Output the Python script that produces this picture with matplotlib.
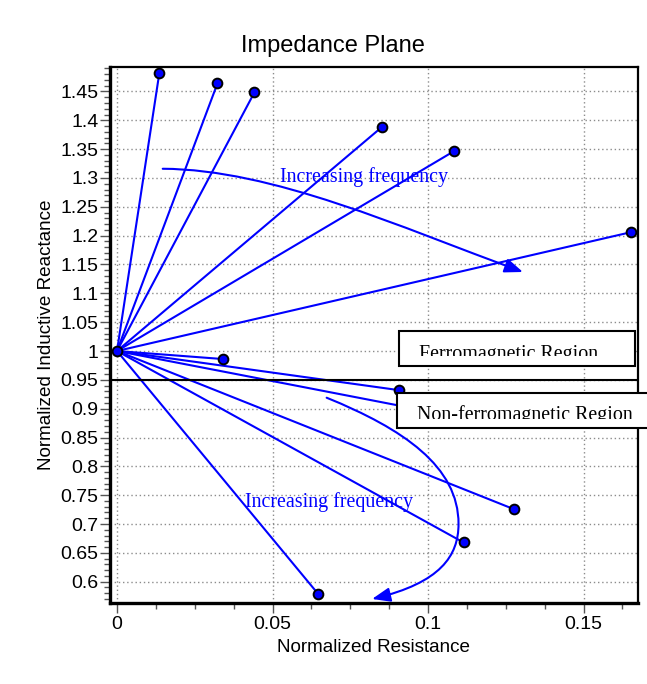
import matplotlib
matplotlib.use("Agg")
import matplotlib.pyplot as plt
from matplotlib.patches import Rectangle, FancyArrowPatch
from matplotlib.path import Path
from matplotlib.ticker import MultipleLocator, FormatStrFormatter

#########################
#####     DATA      #####
#########################
### Origin of every impedance vector (normalized air-coil point)
origin = (0.0, 1.0)

### Ferromagnetic samples (above the 0.95 line)
ferro_r = [0.0136, 0.0323, 0.0442, 0.0853, 0.1085, 0.1652]
ferro_x = [1.4815, 1.464, 1.4486, 1.389, 1.347, 1.206]

### Non-ferromagnetic samples (below the 0.95 line)
nonferro_r = [0.0342, 0.0908, 0.115, 0.1277, 0.1114, 0.0647]
nonferro_x = [0.986, 0.932, 0.880, 0.7255, 0.668, 0.5786]

boundary = 0.95

### "Increasing frequency" arrows (bezier control points, data coords)
arrow_up = [(0.0147, 1.316), (0.050, 1.315), (0.091, 1.215), (0.1305, 1.137)]
arrow_low = [(0.0674, 0.919), (0.092, 0.865), (0.1098, 0.800), (0.1098, 0.700),
             (0.1098, 0.645), (0.104, 0.598), (0.082, 0.570)]

xticks = [0, 0.05, 0.1, 0.15]
blue = "#0000ff"
serif = ["Liberation Serif", "DejaVu Serif"]

#####################
#####   LOGIC   #####
#####################
plt.rcParams["font.family"] = ["Liberation Sans", "DejaVu Sans"]

fig = plt.figure(figsize=(6.47, 6.84), dpi=100)
ax = fig.add_axes([0.1700, 0.1189, 0.8161, 0.7836])

### Vectors from the origin out to each sample
for r, x in zip(ferro_r + nonferro_r, ferro_x + nonferro_x):
  ax.plot([origin[0], r], [origin[1], x], color=blue, lw=1.5, zorder=3)
ax.plot(ferro_r + nonferro_r + [origin[0]], ferro_x + nonferro_x + [origin[1]],
        "o", ms=7, mfc=blue, mec="black", mew=1.4, zorder=4)

### Dividing line between the two regions
ax.axhline(boundary, color="black", lw=1.5, zorder=3)

### Curved arrows
def bezier_arrow(pts):
  codes = [Path.MOVETO] + [Path.CURVE4] * (len(pts) - 1)
  arr = FancyArrowPatch(path=Path(pts, codes), arrowstyle="-|>,head_length=11,head_width=4.3",
                        mutation_scale=1, color=blue, lw=1.5, shrinkA=0, shrinkB=0,
                        transform=ax.transData, zorder=4)
  ax.add_patch(arr)

bezier_arrow(arrow_up)
bezier_arrow(arrow_low)

ax.text(0.0524, 1.2925, "Increasing frequency", color=blue, fontsize=14.4,
        family=serif, va="baseline", zorder=5)
ax.text(0.0412, 0.729, "Increasing frequency", color=blue, fontsize=14.4,
        family=serif, va="baseline", zorder=5)

### Region boxes (text cut off at the bottom as in the original)
def region_box(x0, x1, y0, y1, yclip, tx, ty, label):
  box = Rectangle((x0, y0), x1 - x0, y1 - y0, facecolor="white", edgecolor="black",
                  lw=1.5, clip_on=False, zorder=6)
  ax.add_patch(box)
  clip = Rectangle((x0, yclip), x1 - x0, y1 - yclip, transform=ax.transData)
  t = ax.text(tx, ty, label, fontsize=14.4, family=serif, va="baseline", zorder=7)
  t.set_clip_path(clip)
  t.set_clip_on(True)

region_box(0.0907, 0.1666, 0.974, 1.0355, 0.9913, 0.0970, 0.9858, "Ferromagnetic Region")
region_box(0.0901, 0.1720, 0.866, 0.9275, 0.8816, 0.0966, 0.8805, "Non-ferromagnetic Region")

### Axes, ticks, grid
ax.set_xlim(-0.00225, 0.1675)
ax.set_ylim(0.5636, 1.493)
ax.set_xticks(xticks)
ax.xaxis.set_minor_locator(MultipleLocator(0.0125))
ax.yaxis.set_major_locator(MultipleLocator(0.05))
ax.yaxis.set_minor_locator(MultipleLocator(0.01))
ax.xaxis.set_major_formatter(FormatStrFormatter("%g"))
ax.yaxis.set_major_formatter(FormatStrFormatter("%g"))
ax.tick_params(which="major", length=7.2, width=1.0, color="#555555", labelsize=14)
ax.tick_params(axis="y", which="major", pad=1.2)
ax.tick_params(axis="x", which="major", pad=2.5)
ax.tick_params(which="minor", length=4, width=1.0, color="#555555")
ax.grid(True, which="major", color="#8c8c8c", linestyle=(0, (1, 2)), lw=1.0)
ax.set_axisbelow(True)
for side, w in (("left", 2.4), ("bottom", 2.4), ("top", 1.6), ("right", 1.6)):
  ax.spines[side].set_linewidth(w)

ax.set_xlabel("Normalized Resistance", fontsize=13.6, labelpad=4.5)
ax.set_ylabel("Normalized Inductive Reactance", fontsize=13.6, labelpad=3.5)
fig.text(332.5 / 647, 1 - 51.7 / 684, "Impedance Plane", ha="center", va="baseline", fontsize=17)

fig.savefig("out.png", dpi=100)
